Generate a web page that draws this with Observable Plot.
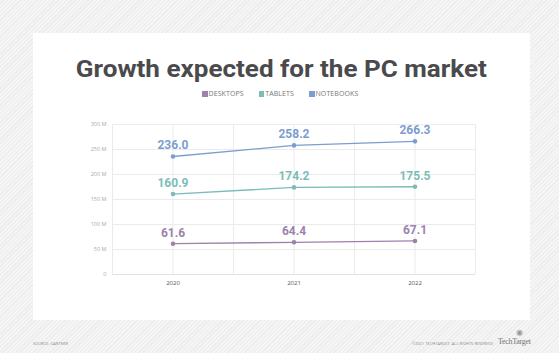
<!DOCTYPE html>
<html>
<head>
<meta charset="utf-8">
<script src="https://cdn.jsdelivr.net/npm/d3@7"></script>
<script src="https://cdn.jsdelivr.net/npm/@observablehq/plot@0.6"></script>
<style>
  html, body { margin: 0; padding: 0; }
  body {
    width: 559px; height: 353px; overflow: hidden; position: relative;
    background-color: #f2f2f2;
    background-image: repeating-linear-gradient(135deg, #f5f5f5 0px, #f5f5f5 2px, #ececec 2px, #ececec 3px);
    font-family: "Open Sans", "Noto Sans", sans-serif;
  }
  #panel { position: absolute; left: 33px; top: 33px; width: 497px; height: 287px; background: #fff; }
  #titlewrap { position: absolute; left: 0; top: 54px; width: 563px; text-align: center; }
  #title {
    display: inline-block; transform-origin: center center;
    font-family: Roboto, sans-serif; font-weight: bold;
    font-size: 24.5px; line-height: 30px; color: #4a4a4d; white-space: nowrap;
  }
  #legend {
    position: absolute; left: 202px; top: 89px; white-space: nowrap;
    font-size: 7px; line-height: 9px; color: #777; letter-spacing: 0.1px;
  }
  #legend span.item { margin-right: 15px; }
  #legend span.sw { display: inline-block; width: 5.5px; height: 5.5px; margin-right: 1px; vertical-align: -0.5px; }
  #chart { position: absolute; left: 33px; top: 110px; }
  .foot { position: absolute; font-size: 3.8px; color: #888; letter-spacing: 0.1px; white-space: nowrap; }
  #logo { position: absolute; left: 498px; top: 337px; font-family: "Liberation Serif", serif; font-size: 8px; color: #777; letter-spacing: -0.3px; }
  #eye { position: absolute; left: 516px; top: 327px; font-size: 8px; line-height: 9px; color: #999; }
</style>
</head>
<body>
<div id="panel"></div>
<div id="titlewrap"><span id="title">Growth expected for the PC market</span></div>
<div id="legend"></div>
<div id="chart"></div>
<div class="foot" style="left:33px; top:341px;">SOURCE: GARTNER</div>
<div class="foot" style="left:412px; top:341px;">©2021 TECHTARGET. ALL RIGHTS RESERVED</div>
<div id="eye">◉</div>
<div id="logo">TechTarget</div>
<script>
const years = [2020, 2021, 2022];
const seriesNames = ["DESKTOPS", "TABLETS", "NOTEBOOKS"];
const seriesColors = ["#9d82ac", "#7bbdb6", "#7c9dd0"];
const desktops = [61.6, 64.4, 67.1];
const tablets = [160.9, 174.2, 175.5];
const notebooks = [236.0, 258.2, 266.3];
const yTicks = [0, 50, 100, 150, 200, 250, 300];
const yTickLabels = ["0", "50 M", "100 M", "150 M", "200 M", "250 M", "300 M"];
const xGrid = [2019.5, 2020, 2020.5, 2021, 2021.5, 2022, 2022.5];

const seriesValues = [desktops, tablets, notebooks];
const data = [];
seriesNames.forEach((s, i) => years.forEach((y, j) => data.push({series: s, year: y, value: seriesValues[i][j]})));

// fit title width to the reference's headline width
const t = document.getElementById("title");
const w = t.getBoundingClientRect().width;
t.style.transform = `scaleX(${411 / w})`;

// legend
const leg = document.getElementById("legend");
seriesNames.forEach((s, i) => {
  const it = document.createElement("span");
  it.className = "item";
  it.innerHTML = `<span class="sw" style="background:${seriesColors[i]}"></span>${s}`;
  leg.appendChild(it);
});

const chart = Plot.plot({
  width: 497,
  height: 185,
  marginTop: 14,
  marginBottom: 21,
  marginLeft: 79,
  marginRight: 55,
  style: {fontFamily: "Open Sans, sans-serif", background: "transparent"},
  x: {domain: [2019.5, 2022.5], label: null},
  y: {domain: [0, 300], label: null},
  color: {domain: seriesNames, range: seriesColors},
  marks: [
    Plot.ruleY(yTicks, {stroke: "#ebebeb", strokeWidth: 1}),
    Plot.ruleX(xGrid, {stroke: "#ebebeb", strokeWidth: 1}),
    Plot.ruleY([0], {stroke: "#e2e2e2", strokeWidth: 1}),
    Plot.axisY({ticks: yTicks, tickFormat: (d) => yTickLabels[yTicks.indexOf(d)], tickSize: 0, tickPadding: 6, fontSize: 5.5, color: "#aaa", label: null}),
    Plot.axisX({ticks: years, tickFormat: d => String(d), tickSize: 0, tickPadding: 6, fontSize: 6, color: "#555", label: null}),
    Plot.line(data, {x: "year", y: "value", z: "series", stroke: "series", strokeWidth: 1.3}),
    Plot.dot(data, {x: "year", y: "value", fill: "series", r: 2.3}),
    Plot.text(data, {x: "year", y: "value", text: d => d.value.toFixed(1), fill: "series", dy: -11, fontSize: 12, fontWeight: "bold", fontFamily: "Roboto, sans-serif", letterSpacing: "-0.5px"})
  ]
});
document.getElementById("chart").appendChild(chart);
</script>
</body>
</html>
